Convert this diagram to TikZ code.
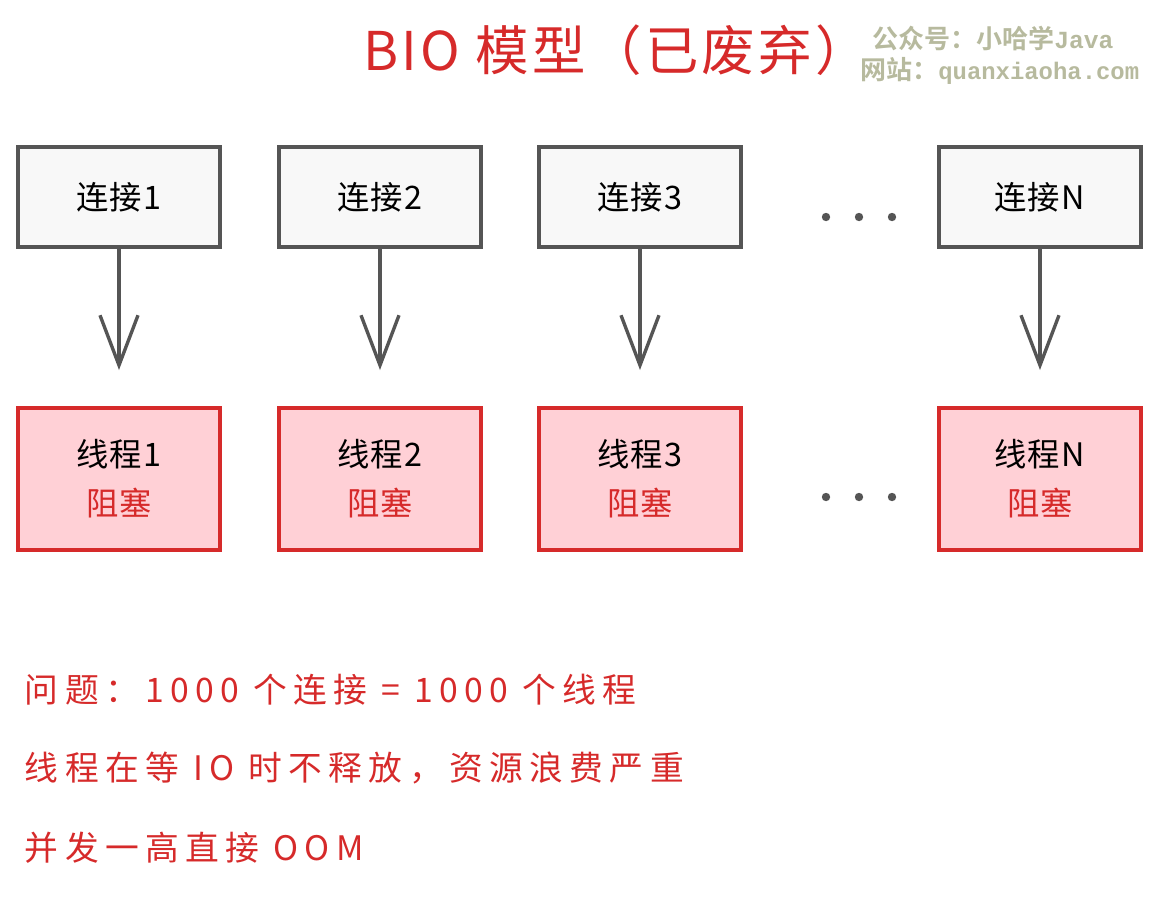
\documentclass[tikz,border=0pt]{standalone}
\usepackage{fontspec}
\setmainfont{Noto Sans CJK SC}
\newfontfamily\markfont{Noto Sans CJK SC Bold}
\newfontfamily\marklatin{Liberation Mono Bold}
\usetikzlibrary{arrows.meta,positioning}

\definecolor{boxgray}{HTML}{555555}
\definecolor{boxfill}{HTML}{F8F8F8}
\definecolor{blockred}{HTML}{D62A2A}
\definecolor{blockfill}{HTML}{FFD0D6}
\definecolor{markgreen}{HTML}{B7BA9E}

\begin{document}
\begin{tikzpicture}[x=0.025cm,y=-0.025cm,
                    >={Straight Barb[length=1.25cm,width=0.95cm,line width=2.4pt]},
                    conn/.style={draw=boxgray,fill=boxfill,line width=2.8pt,
                                 minimum width=5.05cm,minimum height=2.5cm,
                                 font=\fontsize{23}{27}\selectfont\addfontfeatures{LetterSpace=4}},
                    thread/.style={draw=blockred,fill=blockfill,line width=2.8pt,
                                   minimum width=5.05cm,minimum height=3.55cm,
                                   align=center,font=\fontsize{23}{35}\selectfont\addfontfeatures{LetterSpace=4}},
                    flow/.style={->,draw=boxgray,line width=2.4pt,shorten >=0.9cm},
                    note/.style={anchor=west,text=blockred,
                                 font=\fontsize{24}{28}\selectfont\addfontfeatures{LetterSpace=19}},
                    watermark/.style={anchor=west,inner sep=0pt,text=markgreen,
                                      font=\markfont\fontsize{18.5}{20}\selectfont}]

  \useasboundingbox (0,0) rectangle (1160,897);

  % title
  \node[inner sep=0pt,text=blockred,font=\fontsize{38}{44}\selectfont\addfontfeatures{LetterSpace=6}] (title) at (616,50) {BIO 模型（已废弃）};

  % connections
  \node[conn] (c1) at (119,197) {连接1};
  \node[conn] (c2) at (380,197) {连接2};
  \node[conn] (c3) at (640,197) {连接3};
  \node[conn] (cN) at (1040,197) {连接\textit{N}};

  % threads
  \node[thread] (t1) at (119,479) {线程1\\\textcolor{blockred}{阻塞}};
  \node[thread] (t2) at (380,479) {线程2\\\textcolor{blockred}{阻塞}};
  \node[thread] (t3) at (640,479) {线程3\\\textcolor{blockred}{阻塞}};
  \node[thread] (tN) at (1040,479) {线程\textit{N}\\\textcolor{blockred}{阻塞}};

  \path (c1) edge[flow] (t1)
        (c2) edge[flow] (t2)
        (c3) edge[flow] (t3)
        (cN) edge[flow] (tN);

  % dots
  \foreach \x in {826,859,892} {
    \fill[boxgray] (\x,217) circle (4.2);
    \fill[boxgray] (\x,497) circle (4.2);
  }

  % notes
  \node[note] (n1) at (20,690) {问题：1000 个连接 = 1000 个线程};
  \node[note] (n2) at (20,768) {线程在等 IO 时不释放，资源浪费严重};
  \node[note] (n3) at (20,848) {并发一高直接 OOM};

  % watermark
  \node[watermark] (wm1) at (872,38) {公众号：小哈学{\marklatin\fontsize{17.5}{20}\selectfont Java}};
  \node[watermark] (wm2) at (860,71) {网站：{\marklatin\fontsize{17}{20}\selectfont quanxiaoha.com}};
\end{tikzpicture}
\end{document}
